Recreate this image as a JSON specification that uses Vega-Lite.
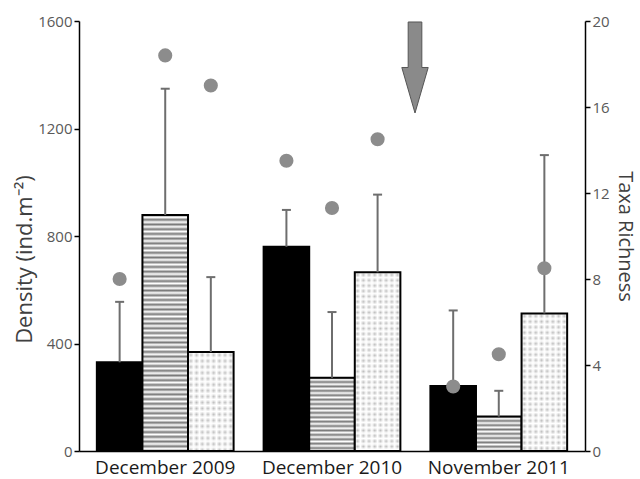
{
 "$schema": "https://vega.github.io/schema/vega-lite/v6.json",
 "width": 506,
 "height": 430,
 "autosize": "none",
 "padding": {"left": 79, "top": 21, "right": 55, "bottom": 28},
 "config": {
  "view": {"stroke": null},
  "font": "Open Sans",
  "axis": {"domainColor": "#000", "domainWidth": 1.5, "tickColor": "#000", "tickWidth": 1.5, "tickSize": 5, "labelFont": "Open Sans", "titleFont": "Open Sans", "labelColor": "#595959", "labelFontSize": 15, "titleFontSize": 19, "titleFontWeight": "normal", "titleColor": "#404040", "grid": false}
 },
 "datasets": {
  "d": [
   {"group": "December 2009", "series": "A", "density": 330, "upper": 555, "richness": 8.0},
   {"group": "December 2009", "series": "B", "density": 878, "upper": 1348, "richness": 18.4},
   {"group": "December 2009", "series": "C", "density": 368, "upper": 647, "richness": 17.0},
   {"group": "December 2010", "series": "A", "density": 760, "upper": 897, "richness": 13.5},
   {"group": "December 2010", "series": "B", "density": 273, "upper": 517, "richness": 11.3},
   {"group": "December 2010", "series": "C", "density": 665, "upper": 954, "richness": 14.5},
   {"group": "November 2011", "series": "A", "density": 242, "upper": 523, "richness": 3.0},
   {"group": "November 2011", "series": "B", "density": 128, "upper": 224, "richness": 4.5},
   {"group": "November 2011", "series": "C", "density": 512, "upper": 1101, "richness": 8.5}
  ],
  "arrow": [{"group": "December 2010", "density": 1427}]
 },
 "data": {"name": "d"},
 "resolve": {"scale": {"y": "independent"}},
 "layer": [
  {
   "layer": [
    {
     "transform": [{"filter": "datum.series === 'A'"}],
     "mark": {"type": "bar", "fill": "#000", "stroke": "#000", "strokeWidth": 2},
     "encoding": {
      "x": {"field": "group", "type": "nominal", "title": null, "scale": {"type": "band", "paddingInner": 0.18, "paddingOuter": 0.107}, "axis": {"labelAngle": 0, "ticks": false, "labelPadding": 7, "labelFontSize": 19, "labelColor": "#1a1a1a"}},
      "xOffset": {"field": "series", "type": "nominal", "scale": {"type": "band", "paddingInner": 0, "paddingOuter": 0}},
      "y": {"field": "density", "type": "quantitative", "title": "Density (ind.m⁻²)", "scale": {"domain": [0, 1600], "nice": false}, "axis": {"values": [0, 400, 800, 1200, 1600], "format": "d", "orient": "left", "titlePadding": 1, "titleFontSize": 22, "titleY": 238}}
     }
    },
    {
     "transform": [{"filter": "datum.series === 'B' && datum.group === 'December 2009'"}],
     "mark": {"type": "bar", "stroke": "#000", "strokeWidth": 2, "fill": {"gradient": "linear", "x1": 0, "y1": 0, "x2": 0, "y2": 1, "stops": [
      {"offset": 0, "color": "#7a7a7a"}, {"offset": 0.01, "color": "#fff"}, {"offset": 0.02, "color": "#7a7a7a"}, {"offset": 0.03, "color": "#fff"}, {"offset": 0.04, "color": "#7a7a7a"}, {"offset": 0.05, "color": "#fff"}, {"offset": 0.06, "color": "#7a7a7a"}, {"offset": 0.07, "color": "#fff"}, {"offset": 0.08, "color": "#7a7a7a"}, {"offset": 0.09, "color": "#fff"},
      {"offset": 0.1, "color": "#7a7a7a"}, {"offset": 0.11, "color": "#fff"}, {"offset": 0.12, "color": "#7a7a7a"}, {"offset": 0.13, "color": "#fff"}, {"offset": 0.14, "color": "#7a7a7a"}, {"offset": 0.15, "color": "#fff"}, {"offset": 0.16, "color": "#7a7a7a"}, {"offset": 0.17, "color": "#fff"}, {"offset": 0.18, "color": "#7a7a7a"}, {"offset": 0.19, "color": "#fff"},
      {"offset": 0.2, "color": "#7a7a7a"}, {"offset": 0.21, "color": "#fff"}, {"offset": 0.22, "color": "#7a7a7a"}, {"offset": 0.23, "color": "#fff"}, {"offset": 0.24, "color": "#7a7a7a"}, {"offset": 0.25, "color": "#fff"}, {"offset": 0.26, "color": "#7a7a7a"}, {"offset": 0.27, "color": "#fff"}, {"offset": 0.28, "color": "#7a7a7a"}, {"offset": 0.29, "color": "#fff"},
      {"offset": 0.3, "color": "#7a7a7a"}, {"offset": 0.31, "color": "#fff"}, {"offset": 0.32, "color": "#7a7a7a"}, {"offset": 0.33, "color": "#fff"}, {"offset": 0.34, "color": "#7a7a7a"}, {"offset": 0.35, "color": "#fff"}, {"offset": 0.36, "color": "#7a7a7a"}, {"offset": 0.37, "color": "#fff"}, {"offset": 0.38, "color": "#7a7a7a"}, {"offset": 0.39, "color": "#fff"},
      {"offset": 0.4, "color": "#7a7a7a"}, {"offset": 0.41, "color": "#fff"}, {"offset": 0.42, "color": "#7a7a7a"}, {"offset": 0.43, "color": "#fff"}, {"offset": 0.44, "color": "#7a7a7a"}, {"offset": 0.45, "color": "#fff"}, {"offset": 0.46, "color": "#7a7a7a"}, {"offset": 0.47, "color": "#fff"}, {"offset": 0.48, "color": "#7a7a7a"}, {"offset": 0.49, "color": "#fff"},
      {"offset": 0.5, "color": "#7a7a7a"}, {"offset": 0.51, "color": "#fff"}, {"offset": 0.52, "color": "#7a7a7a"}, {"offset": 0.53, "color": "#fff"}, {"offset": 0.54, "color": "#7a7a7a"}, {"offset": 0.55, "color": "#fff"}, {"offset": 0.56, "color": "#7a7a7a"}, {"offset": 0.57, "color": "#fff"}, {"offset": 0.58, "color": "#7a7a7a"}, {"offset": 0.59, "color": "#fff"},
      {"offset": 0.6, "color": "#7a7a7a"}, {"offset": 0.61, "color": "#fff"}, {"offset": 0.62, "color": "#7a7a7a"}, {"offset": 0.63, "color": "#fff"}, {"offset": 0.64, "color": "#7a7a7a"}, {"offset": 0.65, "color": "#fff"}, {"offset": 0.66, "color": "#7a7a7a"}, {"offset": 0.67, "color": "#fff"}, {"offset": 0.68, "color": "#7a7a7a"}, {"offset": 0.69, "color": "#fff"},
      {"offset": 0.7, "color": "#7a7a7a"}, {"offset": 0.71, "color": "#fff"}, {"offset": 0.72, "color": "#7a7a7a"}, {"offset": 0.73, "color": "#fff"}, {"offset": 0.74, "color": "#7a7a7a"}, {"offset": 0.75, "color": "#fff"}, {"offset": 0.76, "color": "#7a7a7a"}, {"offset": 0.77, "color": "#fff"}, {"offset": 0.78, "color": "#7a7a7a"}, {"offset": 0.79, "color": "#fff"},
      {"offset": 0.8, "color": "#7a7a7a"}, {"offset": 0.81, "color": "#fff"}, {"offset": 0.82, "color": "#7a7a7a"}, {"offset": 0.83, "color": "#fff"}, {"offset": 0.84, "color": "#7a7a7a"}, {"offset": 0.85, "color": "#fff"}, {"offset": 0.86, "color": "#7a7a7a"}, {"offset": 0.87, "color": "#fff"}, {"offset": 0.88, "color": "#7a7a7a"}, {"offset": 0.89, "color": "#fff"},
      {"offset": 0.9, "color": "#7a7a7a"}, {"offset": 0.91, "color": "#fff"}, {"offset": 0.92, "color": "#7a7a7a"}, {"offset": 0.93, "color": "#fff"}, {"offset": 0.94, "color": "#7a7a7a"}, {"offset": 0.95, "color": "#fff"}, {"offset": 0.96, "color": "#7a7a7a"}, {"offset": 0.97, "color": "#fff"}, {"offset": 0.98, "color": "#7a7a7a"}, {"offset": 0.99, "color": "#fff"}, {"offset": 1, "color": "#7a7a7a"}
     ]}},
     "encoding": {
      "x": {"field": "group", "type": "nominal", "title": null, "scale": {"type": "band", "paddingInner": 0.18, "paddingOuter": 0.107}},
      "xOffset": {"field": "series", "type": "nominal", "scale": {"type": "band", "paddingInner": 0, "paddingOuter": 0}},
      "y": {"field": "density", "type": "quantitative", "title": "Density (ind.m⁻²)"}
     }
    },
    {
     "transform": [{"filter": "datum.series === 'B' && datum.group === 'December 2010'"}],
     "mark": {"type": "bar", "stroke": "#000", "strokeWidth": 2, "fill": {"gradient": "linear", "x1": 0, "y1": 0, "x2": 0, "y2": 1, "stops": [
      {"offset": 0, "color": "#7a7a7a"}, {"offset": 0.03, "color": "#fff"}, {"offset": 0.06, "color": "#7a7a7a"}, {"offset": 0.09, "color": "#fff"}, {"offset": 0.12, "color": "#7a7a7a"}, {"offset": 0.15, "color": "#fff"}, {"offset": 0.18, "color": "#7a7a7a"}, {"offset": 0.21, "color": "#fff"}, {"offset": 0.24, "color": "#7a7a7a"}, {"offset": 0.27, "color": "#fff"},
      {"offset": 0.3, "color": "#7a7a7a"}, {"offset": 0.33, "color": "#fff"}, {"offset": 0.36, "color": "#7a7a7a"}, {"offset": 0.39, "color": "#fff"}, {"offset": 0.42, "color": "#7a7a7a"}, {"offset": 0.45, "color": "#fff"}, {"offset": 0.48, "color": "#7a7a7a"}, {"offset": 0.51, "color": "#fff"}, {"offset": 0.54, "color": "#7a7a7a"}, {"offset": 0.57, "color": "#fff"},
      {"offset": 0.6, "color": "#7a7a7a"}, {"offset": 0.63, "color": "#fff"}, {"offset": 0.66, "color": "#7a7a7a"}, {"offset": 0.69, "color": "#fff"}, {"offset": 0.72, "color": "#7a7a7a"}, {"offset": 0.75, "color": "#fff"}, {"offset": 0.78, "color": "#7a7a7a"}, {"offset": 0.81, "color": "#fff"}, {"offset": 0.84, "color": "#7a7a7a"}, {"offset": 0.87, "color": "#fff"},
      {"offset": 0.9, "color": "#7a7a7a"}, {"offset": 0.93, "color": "#fff"}, {"offset": 0.96, "color": "#7a7a7a"}, {"offset": 0.99, "color": "#fff"}
     ]}},
     "encoding": {
      "x": {"field": "group", "type": "nominal", "title": null, "scale": {"type": "band", "paddingInner": 0.18, "paddingOuter": 0.107}},
      "xOffset": {"field": "series", "type": "nominal", "scale": {"type": "band", "paddingInner": 0, "paddingOuter": 0}},
      "y": {"field": "density", "type": "quantitative", "title": "Density (ind.m⁻²)"}
     }
    },
    {
     "transform": [{"filter": "datum.series === 'B' && datum.group === 'November 2011'"}],
     "mark": {"type": "bar", "stroke": "#000", "strokeWidth": 2, "fill": {"gradient": "linear", "x1": 0, "y1": 0, "x2": 0, "y2": 1, "stops": [
      {"offset": 0, "color": "#7a7a7a"}, {"offset": 0.0625, "color": "#fff"}, {"offset": 0.125, "color": "#7a7a7a"}, {"offset": 0.1875, "color": "#fff"}, {"offset": 0.25, "color": "#7a7a7a"}, {"offset": 0.3125, "color": "#fff"}, {"offset": 0.375, "color": "#7a7a7a"}, {"offset": 0.4375, "color": "#fff"}, {"offset": 0.5, "color": "#7a7a7a"},
      {"offset": 0.5625, "color": "#fff"}, {"offset": 0.625, "color": "#7a7a7a"}, {"offset": 0.6875, "color": "#fff"}, {"offset": 0.75, "color": "#7a7a7a"}, {"offset": 0.8125, "color": "#fff"}, {"offset": 0.875, "color": "#7a7a7a"}, {"offset": 0.9375, "color": "#fff"}, {"offset": 1, "color": "#7a7a7a"}
     ]}},
     "encoding": {
      "x": {"field": "group", "type": "nominal", "title": null, "scale": {"type": "band", "paddingInner": 0.18, "paddingOuter": 0.107}},
      "xOffset": {"field": "series", "type": "nominal", "scale": {"type": "band", "paddingInner": 0, "paddingOuter": 0}},
      "y": {"field": "density", "type": "quantitative", "title": "Density (ind.m⁻²)"}
     }
    },
    {
     "transform": [{"filter": "datum.series === 'C'"}],
     "mark": {"type": "bar", "strokeWidth": 0, "fill": {"gradient": "linear", "x1": 0, "y1": 0, "x2": 1, "y2": 0, "stops": [
      {"offset": 0, "color": "#fff"}, {"offset": 0.0625, "color": "#bdbdbd"}, {"offset": 0.125, "color": "#fff"}, {"offset": 0.1875, "color": "#bdbdbd"}, {"offset": 0.25, "color": "#fff"}, {"offset": 0.3125, "color": "#bdbdbd"}, {"offset": 0.375, "color": "#fff"}, {"offset": 0.4375, "color": "#bdbdbd"}, {"offset": 0.5, "color": "#fff"},
      {"offset": 0.5625, "color": "#bdbdbd"}, {"offset": 0.625, "color": "#fff"}, {"offset": 0.6875, "color": "#bdbdbd"}, {"offset": 0.75, "color": "#fff"}, {"offset": 0.8125, "color": "#bdbdbd"}, {"offset": 0.875, "color": "#fff"}, {"offset": 0.9375, "color": "#bdbdbd"}, {"offset": 1, "color": "#fff"}
     ]}},
     "encoding": {
      "x": {"field": "group", "type": "nominal", "title": null, "scale": {"type": "band", "paddingInner": 0.18, "paddingOuter": 0.107}},
      "xOffset": {"field": "series", "type": "nominal", "scale": {"type": "band", "paddingInner": 0, "paddingOuter": 0}},
      "y": {"field": "density", "type": "quantitative", "title": "Density (ind.m⁻²)"}
     }
    },
    {
     "transform": [{"filter": "datum.series === 'C' && datum.group === 'December 2009'"}],
     "mark": {"type": "bar", "stroke": "#000", "strokeWidth": 2, "fill": {"gradient": "linear", "x1": 0, "y1": 0, "x2": 0, "y2": 1, "stops": [
      {"offset": 0, "color": "#fff"}, {"offset": 0.03, "color": "rgba(255,255,255,0)"}, {"offset": 0.06, "color": "#fff"}, {"offset": 0.09, "color": "rgba(255,255,255,0)"}, {"offset": 0.12, "color": "#fff"}, {"offset": 0.15, "color": "rgba(255,255,255,0)"}, {"offset": 0.18, "color": "#fff"}, {"offset": 0.21, "color": "rgba(255,255,255,0)"}, {"offset": 0.24, "color": "#fff"}, {"offset": 0.27, "color": "rgba(255,255,255,0)"},
      {"offset": 0.3, "color": "#fff"}, {"offset": 0.33, "color": "rgba(255,255,255,0)"}, {"offset": 0.36, "color": "#fff"}, {"offset": 0.39, "color": "rgba(255,255,255,0)"}, {"offset": 0.42, "color": "#fff"}, {"offset": 0.45, "color": "rgba(255,255,255,0)"}, {"offset": 0.48, "color": "#fff"}, {"offset": 0.51, "color": "rgba(255,255,255,0)"}, {"offset": 0.54, "color": "#fff"}, {"offset": 0.57, "color": "rgba(255,255,255,0)"},
      {"offset": 0.6, "color": "#fff"}, {"offset": 0.63, "color": "rgba(255,255,255,0)"}, {"offset": 0.66, "color": "#fff"}, {"offset": 0.69, "color": "rgba(255,255,255,0)"}, {"offset": 0.72, "color": "#fff"}, {"offset": 0.75, "color": "rgba(255,255,255,0)"}, {"offset": 0.78, "color": "#fff"}, {"offset": 0.81, "color": "rgba(255,255,255,0)"}, {"offset": 0.84, "color": "#fff"}, {"offset": 0.87, "color": "rgba(255,255,255,0)"},
      {"offset": 0.9, "color": "#fff"}, {"offset": 0.93, "color": "rgba(255,255,255,0)"}, {"offset": 0.96, "color": "#fff"}, {"offset": 0.99, "color": "rgba(255,255,255,0)"}
     ]}},
     "encoding": {
      "x": {"field": "group", "type": "nominal", "title": null, "scale": {"type": "band", "paddingInner": 0.18, "paddingOuter": 0.107}},
      "xOffset": {"field": "series", "type": "nominal", "scale": {"type": "band", "paddingInner": 0, "paddingOuter": 0}},
      "y": {"field": "density", "type": "quantitative", "title": "Density (ind.m⁻²)"}
     }
    },
    {
     "transform": [{"filter": "datum.series === 'C' && datum.group === 'December 2010'"}],
     "mark": {"type": "bar", "stroke": "#000", "strokeWidth": 2, "fill": {"gradient": "linear", "x1": 0, "y1": 0, "x2": 0, "y2": 1, "stops": [
      {"offset": 0, "color": "#fff"}, {"offset": 0.015, "color": "rgba(255,255,255,0)"}, {"offset": 0.03, "color": "#fff"}, {"offset": 0.045, "color": "rgba(255,255,255,0)"}, {"offset": 0.06, "color": "#fff"}, {"offset": 0.075, "color": "rgba(255,255,255,0)"}, {"offset": 0.09, "color": "#fff"}, {"offset": 0.105, "color": "rgba(255,255,255,0)"}, {"offset": 0.12, "color": "#fff"}, {"offset": 0.135, "color": "rgba(255,255,255,0)"},
      {"offset": 0.15, "color": "#fff"}, {"offset": 0.165, "color": "rgba(255,255,255,0)"}, {"offset": 0.18, "color": "#fff"}, {"offset": 0.195, "color": "rgba(255,255,255,0)"}, {"offset": 0.21, "color": "#fff"}, {"offset": 0.225, "color": "rgba(255,255,255,0)"}, {"offset": 0.24, "color": "#fff"}, {"offset": 0.255, "color": "rgba(255,255,255,0)"}, {"offset": 0.27, "color": "#fff"}, {"offset": 0.285, "color": "rgba(255,255,255,0)"},
      {"offset": 0.3, "color": "#fff"}, {"offset": 0.315, "color": "rgba(255,255,255,0)"}, {"offset": 0.33, "color": "#fff"}, {"offset": 0.345, "color": "rgba(255,255,255,0)"}, {"offset": 0.36, "color": "#fff"}, {"offset": 0.375, "color": "rgba(255,255,255,0)"}, {"offset": 0.39, "color": "#fff"}, {"offset": 0.405, "color": "rgba(255,255,255,0)"}, {"offset": 0.42, "color": "#fff"}, {"offset": 0.435, "color": "rgba(255,255,255,0)"},
      {"offset": 0.45, "color": "#fff"}, {"offset": 0.465, "color": "rgba(255,255,255,0)"}, {"offset": 0.48, "color": "#fff"}, {"offset": 0.495, "color": "rgba(255,255,255,0)"}, {"offset": 0.51, "color": "#fff"}, {"offset": 0.525, "color": "rgba(255,255,255,0)"}, {"offset": 0.54, "color": "#fff"}, {"offset": 0.555, "color": "rgba(255,255,255,0)"}, {"offset": 0.57, "color": "#fff"}, {"offset": 0.585, "color": "rgba(255,255,255,0)"},
      {"offset": 0.6, "color": "#fff"}, {"offset": 0.615, "color": "rgba(255,255,255,0)"}, {"offset": 0.63, "color": "#fff"}, {"offset": 0.645, "color": "rgba(255,255,255,0)"}, {"offset": 0.66, "color": "#fff"}, {"offset": 0.675, "color": "rgba(255,255,255,0)"}, {"offset": 0.69, "color": "#fff"}, {"offset": 0.705, "color": "rgba(255,255,255,0)"}, {"offset": 0.72, "color": "#fff"}, {"offset": 0.735, "color": "rgba(255,255,255,0)"},
      {"offset": 0.75, "color": "#fff"}, {"offset": 0.765, "color": "rgba(255,255,255,0)"}, {"offset": 0.78, "color": "#fff"}, {"offset": 0.795, "color": "rgba(255,255,255,0)"}, {"offset": 0.81, "color": "#fff"}, {"offset": 0.825, "color": "rgba(255,255,255,0)"}, {"offset": 0.84, "color": "#fff"}, {"offset": 0.855, "color": "rgba(255,255,255,0)"}, {"offset": 0.87, "color": "#fff"}, {"offset": 0.885, "color": "rgba(255,255,255,0)"},
      {"offset": 0.9, "color": "#fff"}, {"offset": 0.915, "color": "rgba(255,255,255,0)"}, {"offset": 0.93, "color": "#fff"}, {"offset": 0.945, "color": "rgba(255,255,255,0)"}, {"offset": 0.96, "color": "#fff"}, {"offset": 0.975, "color": "rgba(255,255,255,0)"}, {"offset": 0.99, "color": "#fff"}
     ]}},
     "encoding": {
      "x": {"field": "group", "type": "nominal", "title": null, "scale": {"type": "band", "paddingInner": 0.18, "paddingOuter": 0.107}},
      "xOffset": {"field": "series", "type": "nominal", "scale": {"type": "band", "paddingInner": 0, "paddingOuter": 0}},
      "y": {"field": "density", "type": "quantitative", "title": "Density (ind.m⁻²)"}
     }
    },
    {
     "transform": [{"filter": "datum.series === 'C' && datum.group === 'November 2011'"}],
     "mark": {"type": "bar", "stroke": "#000", "strokeWidth": 2, "fill": {"gradient": "linear", "x1": 0, "y1": 0, "x2": 0, "y2": 1, "stops": [
      {"offset": 0, "color": "#fff"}, {"offset": 0.02, "color": "rgba(255,255,255,0)"}, {"offset": 0.04, "color": "#fff"}, {"offset": 0.06, "color": "rgba(255,255,255,0)"}, {"offset": 0.08, "color": "#fff"}, {"offset": 0.1, "color": "rgba(255,255,255,0)"}, {"offset": 0.12, "color": "#fff"}, {"offset": 0.14, "color": "rgba(255,255,255,0)"}, {"offset": 0.16, "color": "#fff"}, {"offset": 0.18, "color": "rgba(255,255,255,0)"},
      {"offset": 0.2, "color": "#fff"}, {"offset": 0.22, "color": "rgba(255,255,255,0)"}, {"offset": 0.24, "color": "#fff"}, {"offset": 0.26, "color": "rgba(255,255,255,0)"}, {"offset": 0.28, "color": "#fff"}, {"offset": 0.3, "color": "rgba(255,255,255,0)"}, {"offset": 0.32, "color": "#fff"}, {"offset": 0.34, "color": "rgba(255,255,255,0)"}, {"offset": 0.36, "color": "#fff"}, {"offset": 0.38, "color": "rgba(255,255,255,0)"},
      {"offset": 0.4, "color": "#fff"}, {"offset": 0.42, "color": "rgba(255,255,255,0)"}, {"offset": 0.44, "color": "#fff"}, {"offset": 0.46, "color": "rgba(255,255,255,0)"}, {"offset": 0.48, "color": "#fff"}, {"offset": 0.5, "color": "rgba(255,255,255,0)"}, {"offset": 0.52, "color": "#fff"}, {"offset": 0.54, "color": "rgba(255,255,255,0)"}, {"offset": 0.56, "color": "#fff"}, {"offset": 0.58, "color": "rgba(255,255,255,0)"},
      {"offset": 0.6, "color": "#fff"}, {"offset": 0.62, "color": "rgba(255,255,255,0)"}, {"offset": 0.64, "color": "#fff"}, {"offset": 0.66, "color": "rgba(255,255,255,0)"}, {"offset": 0.68, "color": "#fff"}, {"offset": 0.7, "color": "rgba(255,255,255,0)"}, {"offset": 0.72, "color": "#fff"}, {"offset": 0.74, "color": "rgba(255,255,255,0)"}, {"offset": 0.76, "color": "#fff"}, {"offset": 0.78, "color": "rgba(255,255,255,0)"},
      {"offset": 0.8, "color": "#fff"}, {"offset": 0.82, "color": "rgba(255,255,255,0)"}, {"offset": 0.84, "color": "#fff"}, {"offset": 0.86, "color": "rgba(255,255,255,0)"}, {"offset": 0.88, "color": "#fff"}, {"offset": 0.9, "color": "rgba(255,255,255,0)"}, {"offset": 0.92, "color": "#fff"}, {"offset": 0.94, "color": "rgba(255,255,255,0)"}, {"offset": 0.96, "color": "#fff"}, {"offset": 0.98, "color": "rgba(255,255,255,0)"}, {"offset": 1, "color": "#fff"}
     ]}},
     "encoding": {
      "x": {"field": "group", "type": "nominal", "title": null, "scale": {"type": "band", "paddingInner": 0.18, "paddingOuter": 0.107}},
      "xOffset": {"field": "series", "type": "nominal", "scale": {"type": "band", "paddingInner": 0, "paddingOuter": 0}},
      "y": {"field": "density", "type": "quantitative", "title": "Density (ind.m⁻²)"}
     }
    },
    {
     "mark": {"type": "rule", "color": "#6e6e6e", "strokeWidth": 2},
     "encoding": {
      "x": {"field": "group", "type": "nominal", "title": null, "scale": {"type": "band", "paddingInner": 0.18, "paddingOuter": 0.107}},
      "xOffset": {"field": "series", "type": "nominal", "scale": {"type": "band", "paddingInner": 0, "paddingOuter": 0}},
      "y": {"field": "density", "type": "quantitative", "title": "Density (ind.m⁻²)"},
      "y2": {"field": "upper"}
     }
    },
    {
     "mark": {"type": "tick", "color": "#6e6e6e", "thickness": 2, "size": 9, "orient": "horizontal", "opacity": 1},
     "encoding": {
      "x": {"field": "group", "type": "nominal", "title": null, "scale": {"type": "band", "paddingInner": 0.18, "paddingOuter": 0.107}},
      "xOffset": {"field": "series", "type": "nominal", "scale": {"type": "band", "paddingInner": 0, "paddingOuter": 0}},
      "y": {"field": "upper", "type": "quantitative", "title": "Density (ind.m⁻²)"}
     }
    },
    {
     "data": {"name": "arrow"},
     "mark": {"type": "point", "shape": "M-0.15,-1L0.15,-1L0.15,0L0.29,0L0,1L-0.29,0L-0.15,0Z", "size": 8281, "filled": true, "fill": "#8a8a8a", "stroke": "#555", "strokeWidth": 1, "opacity": 1},
     "encoding": {
      "x": {"field": "group", "type": "nominal", "title": null, "bandPosition": 1.107, "scale": {"type": "band", "paddingInner": 0.18, "paddingOuter": 0.107}},
      "y": {"field": "density", "type": "quantitative", "title": "Density (ind.m⁻²)"}
     }
    }
   ]
  },
  {
   "mark": {"type": "circle", "color": "#8c8c8c", "size": 200, "opacity": 1},
   "encoding": {
    "x": {"field": "group", "type": "nominal", "title": null, "scale": {"type": "band", "paddingInner": 0.18, "paddingOuter": 0.107}},
    "xOffset": {"field": "series", "type": "nominal", "scale": {"type": "band", "paddingInner": 0, "paddingOuter": 0}},
    "y": {"field": "richness", "type": "quantitative", "title": "Taxa Richness", "scale": {"domain": [0, 20], "nice": false}, "axis": {"orient": "right", "values": [0, 4, 8, 12, 16, 20], "titlePadding": 5, "titleFontSize": 20}}
   }
  }
 ]
}
